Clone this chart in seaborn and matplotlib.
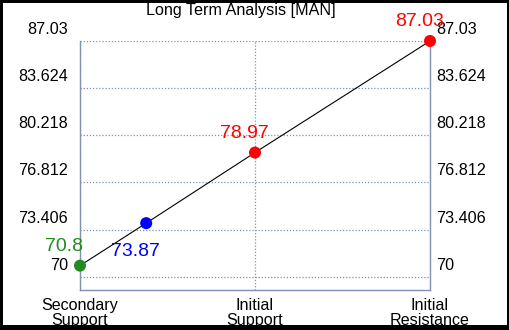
import numpy as np
import pandas as pd
import matplotlib
matplotlib.use("Agg")
import matplotlib.pyplot as plt
import matplotlib.transforms as mtransforms
from matplotlib.patches import Rectangle
import seaborn as sns

# ---- data ----
title = "Long Term Analysis [MAN]"
categories = ["Secondary\nSupport", "Initial\nSupport", "Initial\nResistance"]
level_names = ["Secondary Support", "Primary Support", "Initial Support", "Initial Resistance"]
level_values = [70.8, 73.87, 78.97, 87.03]
level_colors = ["#228B22", "#0000FF", "#FF0000", "#FF0000"]
ytick_values = [70, 73.406, 76.812, 80.218, 83.624, 87.03]
ytick_labels = ["70", "73.406", "76.812", "80.218", "83.624", "87.03"]

# x positions: categories at 0,1,2; the primary support is placed along the trend line
lo, hi = level_values[0], level_values[-1]
x_pos = [0.0, (level_values[1] - lo) / (hi - lo) * 2, 1.0, 2.0]
df = pd.DataFrame({"x": x_pos, "y": level_values, "name": level_names})

sns.set_style("white")
plt.rcParams["font.family"] = ["Liberation Sans", "DejaVu Sans"]

W, H, DPI = 510, 330, 100
fig = plt.figure(figsize=(W / DPI, H / DPI), dpi=DPI)
fig.patch.set_facecolor("black")
fig.patches.append(Rectangle((3 / W, 5 / H), (W - 6) / W, (H - 8) / H,
                             transform=fig.transFigure, facecolor="white",
                             edgecolor="none", zorder=-1))

ax = fig.add_axes([80 / W, (H - 290) / H, 350 / W, 249 / H])
ax.set_facecolor("white")

sns.lineplot(data=df, x="x", y="y", ax=ax, color="black", lw=0.8,
             sort=True, estimator=None, zorder=3)
sns.scatterplot(data=df, x="x", y="y", hue="name", palette=dict(zip(level_names, level_colors)),
                s=75, edgecolor="none", ax=ax, legend=False, zorder=4, clip_on=False)
for c in ax.collections:
    c.set_clip_on(False)

ax.set_xlim(0, 2)
ax.set_ylim(69.04, 87.03)
ax.set_xlabel("")
ax.set_ylabel("")

grid_c = "#7F93B2"
ax.set_yticks(ytick_values)
ax.set_yticklabels(ytick_labels)
ax.set_xticks([0, 1, 2])
ax.set_xticklabels(categories, linespacing=0.95)
ax.tick_params(axis="both", length=0, labelsize=11.6, colors="black")
ax.tick_params(axis="y", labelright=True, pad=4.3)
ax.tick_params(axis="x", pad=6)

ax.grid(True, axis="y", color=grid_c, linestyle=(0, (1, 1.5)), lw=0.9)
ax.grid(True, axis="x", color=grid_c, linestyle=(0, (1, 1.5)), lw=0.9)
ax.set_axisbelow(True)
for side in ["left", "right", "bottom"]:
    ax.spines[side].set_visible(True)
    ax.spines[side].set_color(grid_c)
    ax.spines[side].set_linewidth(1.0)
ax.spines["top"].set_visible(False)

up = mtransforms.ScaledTranslation(0, 13 / DPI, fig.dpi_scale_trans)
left_extra = mtransforms.ScaledTranslation(-6 / DPI, 13 / DPI, fig.dpi_scale_trans)
for t in ax.yaxis.get_major_ticks():
    t.label1.set_transform(t.label1.get_transform() + left_extra)
    t.label2.set_transform(t.label2.get_transform() + up)

# data labels
for xv, yv, col, nm in zip(x_pos, level_values, level_colors, level_names):
    if nm == "Primary Support":
        ax.annotate(f"{yv:g}", (xv, yv), xytext=(-35, -20), textcoords="offset pixels",
                    ha="left", va="top", color=col, fontsize=14, annotation_clip=False)
    else:
        ax.annotate(f"{yv:g}", (xv, yv), xytext=(-35, 15), textcoords="offset pixels",
                    ha="left", va="baseline", color=col, fontsize=14, annotation_clip=False)

fig.text(241 / W, (H - 15) / H, title, ha="center", va="baseline", fontsize=11.6, color="black")

fig.savefig("out.png", dpi=DPI, facecolor=fig.get_facecolor())
